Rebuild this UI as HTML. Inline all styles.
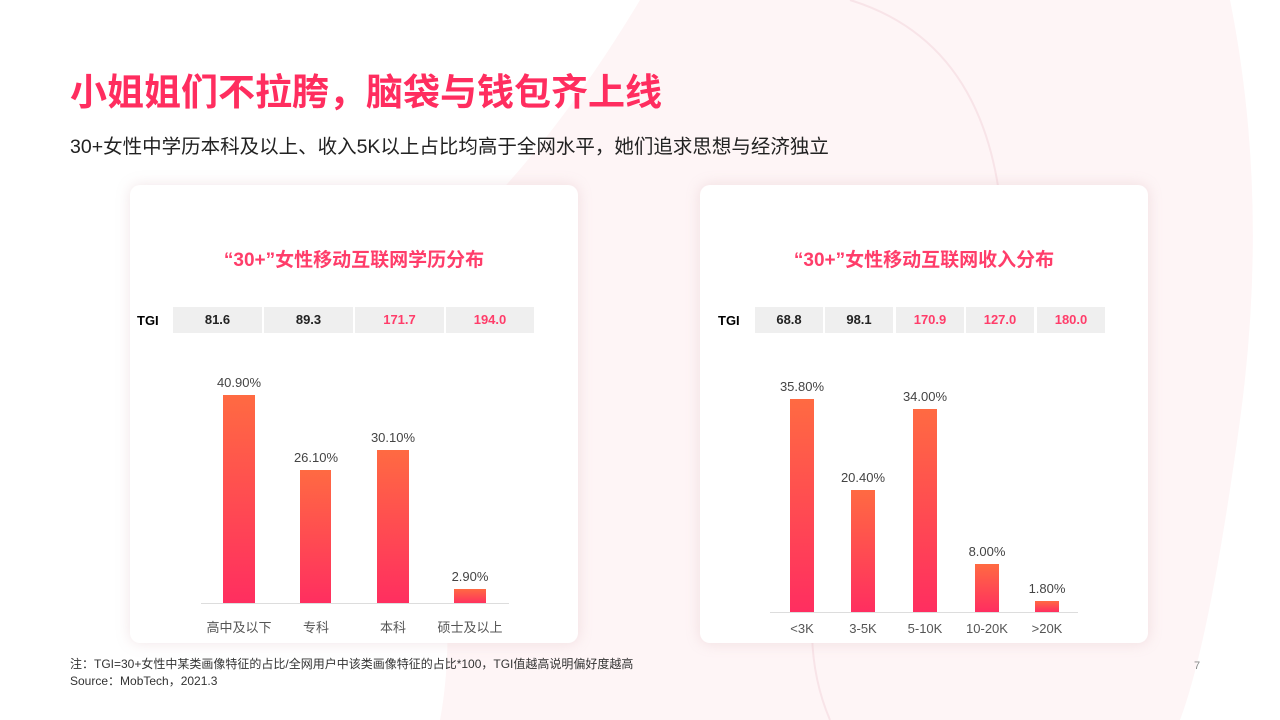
<!DOCTYPE html>
<html><head><meta charset="utf-8"><style>
*{margin:0;padding:0;box-sizing:border-box}
body{width:1280px;height:720px;overflow:hidden;background:#fff;position:relative;font-family:"Liberation Sans","Noto Sans CJK SC",sans-serif}
.a{position:absolute}
.card{position:absolute;background:#fff;border-radius:10px;box-shadow:0 0 14px rgba(200,150,160,0.25)}
.cell{position:absolute;height:26px;background:#efefef;font-weight:bold;font-size:13px;text-align:center;line-height:26px;color:#222}
.r{color:#ff3d6a}
.bar{position:absolute;background:linear-gradient(to bottom,#ff6a42,#ff2e60)}
.v{position:absolute;font-size:13px;color:#444;text-align:center;width:80px}
.l{position:absolute;font-size:13px;color:#555;text-align:center;width:90px}
.tt{position:absolute;font-size:19px;font-weight:bold;color:#ff3d6a;text-align:center}
</style></head><body>
<svg class="a" style="left:0;top:0" width="1280" height="720">
<path d="M640 0 L1230 0 Q1270 200 1240 420 Q1210 640 1180 720 L440 720 Q470 560 380 300 Q520 200 640 0Z" fill="#fef5f6"/>
<path d="M850 0 Q980 40 1000 200 Q1010 330 930 380 Q860 420 820 560 Q800 650 830 720" fill="none" stroke="#f8e4e8" stroke-width="2"/>
</svg>
<div class="a" style="left:70px;top:62px;font-size:37px;font-weight:bold;color:#ff2d5f">小姐姐们不拉胯，脑袋与钱包齐上线</div>
<div class="a" style="left:70px;top:130px;font-size:19.5px;color:#222">30+女性中学历本科及以上、收入5K以上占比均高于全网水平，她们追求思想与经济独立</div>
<div class="card" style="left:130px;top:185px;width:448px;height:458px"></div>
<div class="card" style="left:700px;top:185px;width:448px;height:458px"></div>

<div class="tt" style="left:130px;top:245px;width:448px">“30+”女性移动互联网学历分布</div>
<div class="a" style="left:137px;top:313px;font-size:13px;font-weight:bold">TGI</div>
<div class="cell" style="left:173px;top:307px;width:89px">81.6</div>
<div class="cell" style="left:264px;top:307px;width:89px">89.3</div>
<div class="cell r" style="left:355px;top:307px;width:89px">171.7</div>
<div class="cell r" style="left:446px;top:307px;width:88px">194.0</div>
<div class="bar" style="left:223px;top:395px;width:32px;height:209px"></div>
<div class="bar" style="left:300px;top:470px;width:31px;height:134px"></div>
<div class="bar" style="left:377px;top:450px;width:32px;height:154px"></div>
<div class="bar" style="left:454px;top:589px;width:32px;height:15px"></div>
<div class="v" style="left:199px;top:375px">40.90%</div>
<div class="v" style="left:276px;top:450px">26.10%</div>
<div class="v" style="left:353px;top:430px">30.10%</div>
<div class="v" style="left:430px;top:569px">2.90%</div>
<div class="a" style="left:201px;top:603px;width:308px;height:1px;background:#ddd"></div>
<div class="l" style="left:194px;top:617px">高中及以下</div>
<div class="l" style="left:271px;top:617px">专科</div>
<div class="l" style="left:348px;top:617px">本科</div>
<div class="l" style="left:425px;top:617px">硕士及以上</div>

<div class="tt" style="left:700px;top:245px;width:448px">“30+”女性移动互联网收入分布</div>
<div class="a" style="left:718px;top:313px;font-size:13px;font-weight:bold">TGI</div>
<div class="cell" style="left:755px;top:307px;width:68px">68.8</div>
<div class="cell" style="left:825px;top:307px;width:68px">98.1</div>
<div class="cell r" style="left:896px;top:307px;width:68px">170.9</div>
<div class="cell r" style="left:966px;top:307px;width:68px">127.0</div>
<div class="cell r" style="left:1037px;top:307px;width:68px">180.0</div>
<div class="bar" style="left:790px;top:399px;width:24px;height:213px"></div>
<div class="bar" style="left:851px;top:490px;width:24px;height:122px"></div>
<div class="bar" style="left:913px;top:409px;width:24px;height:203px"></div>
<div class="bar" style="left:975px;top:564px;width:24px;height:48px"></div>
<div class="bar" style="left:1035px;top:601px;width:24px;height:11px"></div>
<div class="v" style="left:762px;top:379px">35.80%</div>
<div class="v" style="left:823px;top:470px">20.40%</div>
<div class="v" style="left:885px;top:389px">34.00%</div>
<div class="v" style="left:947px;top:544px">8.00%</div>
<div class="v" style="left:1007px;top:581px">1.80%</div>
<div class="a" style="left:770px;top:612px;width:308px;height:1px;background:#ddd"></div>
<div class="l" style="left:757px;top:621px">&lt;3K</div>
<div class="l" style="left:818px;top:621px">3-5K</div>
<div class="l" style="left:880px;top:621px">5-10K</div>
<div class="l" style="left:942px;top:621px">10-20K</div>
<div class="l" style="left:1002px;top:621px">&gt;20K</div>

<div class="a" style="left:70px;top:656px;font-size:12px;color:#333;line-height:17px">注：TGI=30+女性中某类画像特征的占比/全网用户中该类画像特征的占比*100，TGI值越高说明偏好度越高<br>Source：MobTech，2021.3</div>
<div class="a" style="left:1194px;top:660px;font-size:11px;color:#888">7</div>
</body></html>
